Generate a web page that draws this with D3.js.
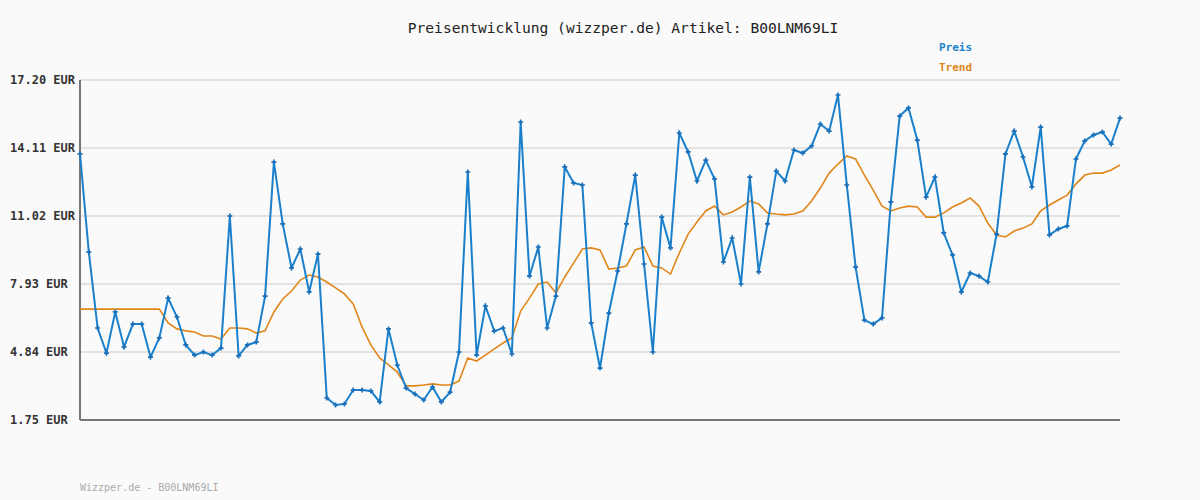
<!DOCTYPE html>
<html><head><meta charset="utf-8">
<script src="https://cdn.jsdelivr.net/npm/d3@7"></script>
<style>body{margin:0;background:#fafafa}text{font-family:"DejaVu Sans Mono",monospace}</style>
</head><body>
<script>
const preis = [13.84,9.38,5.93,4.79,6.66,5.07,6.11,6.11,4.61,5.48,7.29,6.43,5.16,4.70,4.84,4.70,5.02,11.02,4.66,5.16,
5.29,7.38,13.47,10.66,8.66,9.52,7.57,9.29,2.75,2.43,2.48,3.11,3.11,3.07,2.57,5.89,4.25,3.20,2.93,2.66,
3.25,2.57,3.02,4.84,13.02,4.70,6.93,5.79,5.93,4.75,15.29,8.29,9.61,5.93,7.38,13.25,12.52,12.43,6.16,4.11,
6.61,8.52,10.66,12.88,8.84,4.84,10.97,9.57,14.79,13.93,12.61,13.56,12.70,8.93,10.02,7.93,12.79,8.48,10.66,13.06,
12.61,14.02,13.88,14.20,15.20,14.88,16.52,12.43,8.70,6.29,6.11,6.39,11.66,15.56,15.93,14.47,11.88,12.79,10.25,9.25,
7.57,8.43,8.29,8.02,10.20,13.84,14.88,13.70,12.34,15.06,10.16,10.43,10.57,13.61,14.43,14.70,14.84,14.29,15.47];
const trend = [6.79,6.79,6.79,6.79,6.79,6.79,6.79,6.79,6.79,6.79,
6.16,5.89,5.80,5.75,5.57,5.57,5.43,5.93,5.93,5.89,5.70,5.80,6.66,7.25,7.61,8.11,8.34,8.25,8.02,7.75,
7.48,7.02,5.98,5.16,4.57,4.25,3.93,3.30,3.30,3.34,3.39,3.34,3.34,3.52,4.57,4.43,4.70,4.98,5.25,5.48,
6.70,7.29,7.93,8.02,7.52,8.25,8.88,9.52,9.57,9.48,8.61,8.66,8.75,9.48,9.61,8.75,8.66,8.38,9.34,10.20,
10.75,11.25,11.47,11.07,11.20,11.43,11.70,11.57,11.16,11.11,11.07,11.11,11.25,11.70,12.29,12.97,13.38,13.75,13.61,12.88,
12.20,11.47,11.25,11.38,11.47,11.43,10.97,10.97,11.16,11.43,11.61,11.84,11.47,10.70,10.16,10.07,10.34,10.47,10.66,11.25,
11.52,11.75,11.97,12.47,12.88,12.97,12.97,13.11,13.34];
const yTicks = [1.75,4.84,7.93,11.02,14.11,17.20];
const artikel = "B00LNM69LI";

const W=1200,H=500, L=80,R=1120,T=80,B=420;
const svg=d3.select("body").append("svg").attr("width",W).attr("height",H);
svg.append("rect").attr("width",W).attr("height",H).attr("fill","#fafafa");
const x=d3.scaleLinear().domain([0,preis.length-1]).range([L,R]);
const y=d3.scaleLinear().domain([1.75,17.20]).range([B,T]);

svg.append("g").selectAll("line").data(yTicks).join("line")
  .attr("x1",L).attr("x2",R).attr("y1",d=>y(d)).attr("y2",d=>y(d))
  .attr("stroke","#e3e3e3").attr("stroke-width",2);
svg.append("g").selectAll("text").data(yTicks).join("text")
  .attr("x",10).attr("y",d=>y(d)+4).attr("font-size",12).attr("font-weight","bold").attr("fill","#333")
  .text(d=>d.toFixed(2)+" EUR");
svg.append("line").attr("x1",L).attr("x2",L).attr("y1",T).attr("y2",B).attr("stroke","#777").attr("stroke-width",2);
svg.append("line").attr("x1",L).attr("x2",R).attr("y1",B).attr("y2",B).attr("stroke","#777").attr("stroke-width",2);

const line=d3.line().x((d,i)=>x(i)).y(d=>y(d));
svg.append("path").datum(trend).attr("d",line).attr("fill","none").attr("stroke","#e0861a").attr("stroke-width",1.6);
svg.append("path").datum(preis).attr("d",line).attr("fill","none").attr("stroke","#1a80cc").attr("stroke-width",2);
svg.append("g").selectAll("path").data(preis).join("path")
  .attr("d",d3.symbol(d3.symbolCross,14)).attr("transform",(d,i)=>`translate(${x(i)},${y(d)})`).attr("fill","#1a6fb8");

svg.append("text").attr("x",623).attr("y",33).attr("text-anchor","middle").attr("font-size",14.6).attr("fill","#222")
  .text("Preisentwicklung (wizzper.de) Artikel: "+artikel);
svg.append("text").attr("x",939).attr("y",51).attr("font-size",11).attr("font-weight","bold").attr("fill","#1a80cc").text("Preis");
svg.append("text").attr("x",939).attr("y",71).attr("font-size",11).attr("font-weight","bold").attr("fill","#e0861a").text("Trend");
svg.append("text").attr("x",80).attr("y",491).attr("font-size",10).attr("fill","#aaa").text("Wizzper.de - "+artikel);
</script>
</body></html>
